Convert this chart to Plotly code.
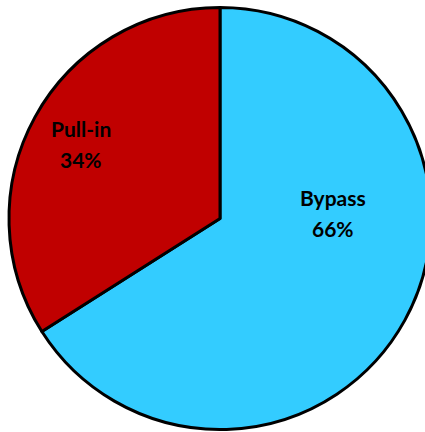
import plotly.graph_objects as go

labels = ["Bypass", "Pull-in"]
values = [66, 34]
colors = ["#33CCFF", "#C00000"]

W, H = 440, 432
fig = go.Figure(go.Pie(
    labels=labels,
    values=values,
    sort=False,
    direction="clockwise",
    rotation=0,
    marker=dict(colors=colors, line=dict(color="black", width=3)),
    textinfo="none",
    domain=dict(x=[9 / W, 431 / W], y=[1 - 429.5 / H, 1 - 7.5 / H]),
    showlegend=False,
    hoverinfo="skip",
))

total = sum(values)
# label placement (pixel centres of the two text lines for each slice)
label_pos = {"Bypass": (332.5, 198, 228.5), "Pull-in": (80.5, 128.5, 159.5)}
font = dict(family="Lato", size=21, color="black", weight="bold")
for lab, val in zip(labels, values):
    x, y1, y2 = label_pos[lab]
    for txt, yy in ((lab, y1), (f"{round(100 * val / total)}%", y2)):
        fig.add_annotation(
            x=x / W, y=1 - yy / H, xref="paper", yref="paper",
            text=txt, showarrow=False, font=font,
            xanchor="center", yanchor="middle",
        )

fig.update_layout(
    width=W, height=H,
    margin=dict(l=0, r=0, t=0, b=0),
    paper_bgcolor="white",
    plot_bgcolor="white",
)
fig.write_html(
    "out.html",
    config={"displayModeBar": False},
    post_script="document.body.style.margin='0';document.body.style.overflow='hidden';",
)
